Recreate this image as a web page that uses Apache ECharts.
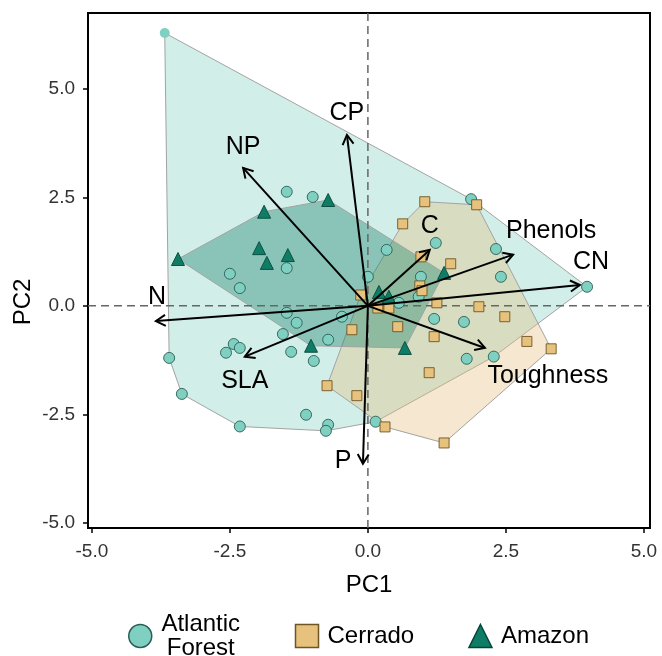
<!DOCTYPE html>
<html><head><meta charset="utf-8">
<script src="https://cdn.jsdelivr.net/npm/echarts@6/dist/echarts.min.js"></script>
<style>html,body{margin:0;padding:0;background:#fff}#c{width:662px;height:656px}</style>
</head><body><div id="c"></div><script>
// ---- data (PC1, PC2 scores) ----
const atlanticForest = [
  [-1.47, 2.63], [-1.00, 2.51], [-1.47, 0.87], [-2.50, 0.74], [-2.32, 0.41],
  [-1.47, -0.16], [-1.29, -0.39], [-0.47, -0.25], [-1.54, -0.65], [-0.72, -0.78],
  [-1.39, -1.06], [-0.98, -1.27], [-2.43, -0.88], [-2.32, -0.97], [-2.57, -1.08],
  [-3.60, -1.20], [-3.37, -2.03], [-2.32, -2.78], [-1.12, -2.51], [-0.72, -2.74],
  [-0.76, -2.88], [0.14, -2.67], [0.00, 0.67], [3.97, 0.44], [2.41, 0.67],
  [0.96, 0.67], [0.92, 0.21], [0.56, 0.07], [1.20, -0.30], [1.74, -0.37],
  [1.79, -1.22], [2.28, -1.17], [1.87, 2.46], [1.23, 1.45], [0.34, 1.29], [2.32, 1.31]
];
const atlanticOutlier = [[-3.68, 6.29]];
const cerrado = [
  [1.03, 2.40], [1.97, 2.33], [0.63, 1.89], [0.96, 1.13], [1.50, 0.97],
  [0.94, 0.46], [0.98, 0.35], [-0.13, 0.25], [1.25, 0.07], [0.18, -0.05],
  [0.38, -0.05], [2.01, -0.02], [2.48, -0.25], [0.54, -0.48], [-0.29, -0.55],
  [1.20, -0.71], [2.88, -0.82], [3.32, -0.99], [1.11, -1.54], [-0.74, -1.84],
  [-0.20, -2.07], [0.31, -2.79], [1.38, -3.16]
];
const amazon = [
  [-1.88, 2.17], [-0.72, 2.44], [-3.44, 1.08], [-1.97, 1.33], [-1.83, 0.99],
  [-1.45, 1.17], [-1.03, -0.92], [1.38, 0.76], [0.20, 0.32], [0.38, 0.21], [0.67, -0.97]
];
const loadingNames = ['CP', 'NP', 'N', 'SLA', 'P', 'C', 'Phenols', 'CN', 'Toughness'];
const loadingValues = [
  [-0.38, 3.94], [-2.26, 3.18], [-3.84, -0.35], [-2.23, -1.17], [-0.09, -3.64],
  [1.12, 1.29], [2.63, 1.18], [3.84, 0.48], [2.12, -0.97]
];
const loadingLabelPos = [
  [-0.38, 4.45], [-2.26, 3.66], [-3.82, 0.21], [-2.23, -1.73], [-0.45, -3.57],
  [1.12, 1.84], [3.32, 1.73], [4.04, 1.01], [3.26, -1.61]
];
const axisTicks = [-5, -2.5, 0, 2.5, 5];
const groupNames = ['Atlantic Forest', 'Cerrado', 'Amazon'];

// ---- helpers ----
const FONT = '"Liberation Sans", Arial, Helvetica, sans-serif';
function convexHull(pts) {
  const p = pts.slice().sort((a, b) => a[0] - b[0] || a[1] - b[1]);
  const cross = (o, a, b) => (a[0] - o[0]) * (b[1] - o[1]) - (a[1] - o[1]) * (b[0] - o[0]);
  const lower = [];
  for (const q of p) { while (lower.length >= 2 && cross(lower[lower.length - 2], lower[lower.length - 1], q) <= 0) lower.pop(); lower.push(q); }
  const upper = [];
  for (let i = p.length - 1; i >= 0; i--) { const q = p[i]; while (upper.length >= 2 && cross(upper[upper.length - 2], upper[upper.length - 1], q) <= 0) upper.pop(); upper.push(q); }
  upper.pop(); lower.pop();
  return lower.concat(upper);
}
function hullSeries(pts, fill) {
  const h = convexHull(pts);
  return {
    type: 'custom', data: h, silent: true, z: 1, clip: false,
    encode: { x: 0, y: 1 },
    renderItem: (params, api) => {
      if (params.dataIndex !== 0) return null;
      return { type: 'polygon', shape: { points: h.map(p => api.coord(p)) },
        style: { fill: fill, stroke: '#a3a3a3', lineWidth: 1 } };
    }
  };
}

const colors = { af: '#80d0c2', ce: '#e6c27c', am: '#0f7d66' };

const chart = echarts.init(document.getElementById('c'), null, { renderer: 'canvas' });
chart.setOption({
  animation: false,
  backgroundColor: '#fff',
  grid: { left: 88, right: 12, top: 13, bottom: 128, show: true, borderColor: '#000', borderWidth: 2, backgroundColor: 'transparent' },
  xAxis: {
    type: 'value', min: -5.07, max: 5.11,
    name: 'PC1', nameLocation: 'middle', nameGap: 45,
    nameTextStyle: { fontSize: 24, fontFamily: FONT, color: '#000' },
    axisLine: { show: false, onZero: false },
    splitLine: { show: false },
    axisTick: { show: true, inside: false, customValues: axisTicks, length: 5, lineStyle: { color: '#000', width: 1.5 } },
    axisLabel: { customValues: axisTicks, formatter: v => Number(v).toFixed(1), fontSize: 19, fontFamily: FONT, color: '#333', margin: 14 }
  },
  yAxis: {
    type: 'value', min: -5.12, max: 6.75,
    axisLine: { show: false, onZero: false },
    splitLine: { show: false },
    axisTick: { show: true, inside: false, customValues: axisTicks, length: 5, lineStyle: { color: '#000', width: 1.5 } },
    axisLabel: { customValues: axisTicks, formatter: v => Number(v).toFixed(1), fontSize: 19, fontFamily: FONT, color: '#333', margin: 13 }
  },
  graphic: [{
    type: 'text', x: 23, y: 302, rotation: Math.PI / 2,
    style: { text: 'PC2', fontSize: 24, fontFamily: FONT, fill: '#000', align: 'center', verticalAlign: 'middle' }
  }],
  legend: {
    data: [
      { name: groupNames[0], icon: 'circle', itemStyle: { borderWidth: 1.5 } },
      { name: groupNames[1], icon: 'rect', itemStyle: { borderWidth: 1.5 } },
      { name: groupNames[2], icon: 'triangle', itemStyle: { borderWidth: 1.5 } }
    ],
    left: 123, top: 607, itemWidth: 23, itemHeight: 23, itemGap: 54,
    selectedMode: false,
    formatter: n => n === 'Atlantic Forest' ? '{c|Atlantic}\n{c|Forest}' : n,
    textStyle: { fontSize: 24, fontFamily: FONT, color: '#000', padding: [0, 0, 0, 4],
      rich: { c: { fontSize: 24, lineHeight: 24, width: 80, align: 'center', fontFamily: FONT, color: '#000' } } }
  },
  series: [
    hullSeries(atlanticForest.concat(atlanticOutlier), 'rgba(127,207,193,0.35)'),
    hullSeries(cerrado, 'rgba(230,190,120,0.35)'),
    hullSeries(amazon, 'rgba(20,128,105,0.38)'),
    {
      type: 'custom', data: [[0, 0]], z: 2, silent: true, clip: false,
      renderItem: (params, api) => {
        const cs = params.coordSys; const o = api.coord([0, 0]);
        const st = { stroke: '#666', lineWidth: 1.5, lineDash: [8, 5] };
        return { type: 'group', children: [
          { type: 'line', shape: { x1: cs.x, y1: o[1], x2: cs.x + cs.width, y2: o[1] }, style: st },
          { type: 'line', shape: { x1: o[0], y1: cs.y, x2: o[0], y2: cs.y + cs.height }, style: st }
        ] };
      }
    },
    { type: 'scatter', name: groupNames[0], symbol: 'circle', symbolSize: 11, data: atlanticForest, z: 3,
      itemStyle: { color: colors.af, borderColor: '#2b5e56', borderWidth: 0.9, opacity: 1 } },
    { type: 'scatter', symbol: 'circle', symbolSize: 10, data: atlanticOutlier, z: 3,
      itemStyle: { color: colors.af, borderWidth: 0, opacity: 1 } },
    { type: 'scatter', name: groupNames[1], symbol: 'rect', symbolSize: 10, data: cerrado, z: 3,
      itemStyle: { color: colors.ce, borderColor: '#6e5426', borderWidth: 0.9, opacity: 1 } },
    { type: 'scatter', name: groupNames[2], symbol: 'triangle', symbolSize: 13, data: amazon, z: 3,
      itemStyle: { color: colors.am, borderColor: '#06463a', borderWidth: 0.9, opacity: 1 } },
    {
      type: 'custom', z: 4, silent: true, clip: false,
      data: loadingValues,
      encode: { x: 0, y: 1 },
      renderItem: (params, api) => {
        const o = api.coord([0, 0]);
        const e = api.coord([api.value(0), api.value(1)]);
        const ang = Math.atan2(e[1] - o[1], e[0] - o[0]);
        const L = 11, a = Math.PI / 6;
        const p1 = [e[0] - L * Math.cos(ang - a), e[1] - L * Math.sin(ang - a)];
        const p2 = [e[0] - L * Math.cos(ang + a), e[1] - L * Math.sin(ang + a)];
        return { type: 'group', children: [
          { type: 'line', shape: { x1: o[0], y1: o[1], x2: e[0], y2: e[1] }, style: { stroke: '#000', lineWidth: 2 } },
          { type: 'polyline', shape: { points: [p1, e, p2] }, style: { stroke: '#000', lineWidth: 2, fill: null } }
        ] };
      }
    },
    {
      type: 'custom', z: 5, silent: true, clip: false,
      data: loadingLabelPos,
      encode: { x: 0, y: 1 },
      renderItem: (params, api) => {
        const c = api.coord([api.value(0), api.value(1)]);
        return { type: 'text', x: c[0], y: c[1],
          style: { text: loadingNames[params.dataIndex], fontSize: 25, fontFamily: FONT, fill: '#000', align: 'center', verticalAlign: 'middle' } };
      }
    }
  ]
});
</script></body></html>
